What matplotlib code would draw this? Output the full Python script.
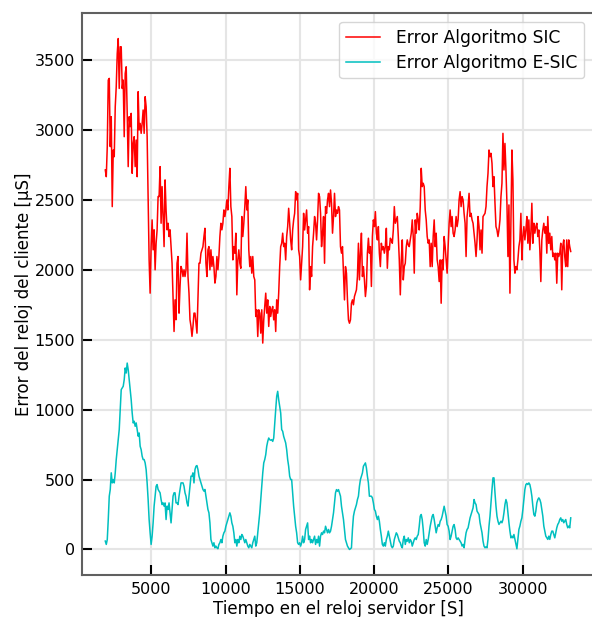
#!/usr/bin/env python3
"""Error del reloj del cliente: algoritmo SIC vs E-SIC."""

import numpy as np
import matplotlib
matplotlib.use("Agg")
import matplotlib.pyplot as plt  # noqa: E402

plt.rcParams["font.family"] = "DejaVu Sans"

RED = "#ff0000"
CYAN = "#00bfbf"
GRID = "#e5e5e5"
SPINE = "#606060"

# tiempo del servidor [S]: muestreo regular de la serie
T_START = 1900
T_END = 33230

# error SIC [uS]
SIC = [
    2714, 2666, 2881, 3357, 3369, 2881, 3095, 2452, 2857, 2809, 3166, 3309, 3547, 3654, 3297, 3595,
    3595, 3297, 3357, 2952, 3404, 3452, 3119, 2738, 3095, 3024, 3119, 2690, 2904, 2952, 2738, 2928,
    2666, 3274, 3000, 3047, 2976, 3047, 3143, 2976, 3238, 3166, 2952, 2524, 2071, 1833, 2166, 2357,
    2143, 2286, 2000, 2190, 2286, 2524, 2524, 2738, 2333, 2595, 2381, 2166, 2643, 2428, 2286, 2333,
    2238, 2286, 2166, 2047, 1809, 1559, 1785, 1643, 2047, 2095, 1690, 1881, 2024, 2000, 1952, 2000,
    1952, 2000, 2262, 1952, 1833, 1643, 1595, 1524, 1595, 1690, 1690, 1619, 1547, 1809, 2047, 2047,
    2119, 2143, 2166, 2238, 2297, 2047, 1952, 2143, 2166, 2000, 2143, 2024, 2095, 2024, 1905, 1952,
    2095, 2000, 2095, 2238, 2333, 2286, 2333, 2428, 2381,
    2428, 2500, 2428, 2595, 2726, 2452, 2381, 2071, 2166, 2119, 2262, 1821, 2071, 2143, 2047, 2011,
    2381, 2238, 2333, 2452, 2595, 2428, 2500, 2143, 2023, 2095, 1976, 2095, 1952, 1928, 1666, 1714,
    1523, 1714, 1690, 1547, 1714, 1476, 1642, 1738, 1833, 1690, 1785, 1595, 1738, 1666, 1714, 1738,
    1642, 1714, 1559, 1785, 1690, 1833, 2023, 2166, 2190, 2262, 2166, 2190, 2071, 2238, 2309, 2440,
    2333, 2214, 2143, 2285, 2357, 2404, 2559, 2500, 2547, 2143, 2095, 1928, 2047, 2166, 2404, 2285,
    2357, 2428, 2262, 2309, 1857, 2023, 1952, 2166, 2262, 2381, 2333, 2214, 2357, 2547, 2523, 2404,
    2166, 2262, 2381, 2047, 2452, 2404, 2500, 2547, 2452, 2571, 2476, 2262, 2381, 2547, 2381, 2428,
    2404, 2452, 2428, 2166, 2119, 2166, 1976, 1785, 2023, 1976, 1785, 1642, 1618, 1642,
    1761, 1785, 1750, 1809, 1833, 1857, 1952, 2190, 1928, 2119, 2262, 1952, 2023, 1928, 1809, 1881,
    2119, 2226, 2119, 2166, 1881, 2238, 2357, 2309, 2416, 2262, 2214, 2309, 2119, 2023, 2190, 2143,
    2166, 2119, 2166, 2297, 2011, 2166, 2143, 2226, 2214, 2190, 2285, 2452, 2333, 2357, 2381, 2238,
    2071, 1821, 2071, 2214, 1928, 2023, 2047, 2166, 2214, 2178, 2166, 2214, 2262, 2357, 2238, 1976,
    2357, 2262, 2404, 2357, 2285, 2452, 2726, 2595, 2619, 2595, 2428, 2357, 2238, 2190, 2214, 2023,
    2190, 2023, 2238, 2357, 2166, 2262, 2071, 2023, 1916, 2071, 1761, 2071, 2000, 2238, 2166, 2071,
    1976, 2166, 2333, 2428, 2309, 2381, 2262, 2238, 2285, 2381, 2309, 2357, 2500, 2559, 2452, 2523,
    2500, 2404, 2333, 2095, 2381, 2452, 2547, 2381, 2404, 2357, 2333, 2262, 2190, 2095,
    2214, 2381, 2309, 2143, 2285, 2119, 2381, 2392, 2404, 2452, 2595, 2690, 2857, 2809, 2833, 2762,
    2595, 2666, 2476, 2309, 2285, 2238, 2285, 2357, 2523, 2619, 2976, 2714, 2904, 2714, 2476, 2095,
    2464, 1833, 2357, 2857, 2642, 2071, 1976, 2023, 2000, 2071, 2166, 2214, 2404, 2071, 2238, 2309,
    2214, 2285, 2381, 2190, 2357, 2143, 2262, 2476, 2190, 2333, 2262, 2309, 2333, 2238, 2285, 2143,
    1916, 2214, 2285, 2333, 2262, 2309, 2119, 2381, 2190, 2262, 2143, 2238, 2095, 2119, 2071, 2119,
    1904, 2119, 2095, 2119, 2190, 1857, 2166, 2214, 2095, 2023, 2214, 2023, 2214, 2166, 2131,
]

# error E-SIC [uS]
ESIC = [
    60, 36, 71, 214, 381, 429, 548, 476, 500, 476, 548, 643, 714, 786, 857, 1000,
    1143, 1155, 1167, 1214, 1298, 1262, 1333, 1286, 1214, 1143, 1071, 976, 905, 917, 881, 905,
    857, 810, 833, 738, 714, 667, 643, 643, 619, 571, 476, 357, 214, 119, 36, 95,
    190, 310, 381, 452, 464, 429, 417, 405, 357, 321, 333, 310, 333, 214, 310, 286,
    333, 262, 190, 286, 381, 405, 405, 333, 333, 321, 381, 429, 476, 476, 476, 452,
    405, 381, 333, 310, 381, 452, 524, 524, 548, 476, 571, 595, 600, 571, 524, 500,
    476, 452, 429, 417, 429, 381, 333, 286, 262, 190, 71, 48, 24, 48, 12, 24,
    12, 5, 36, 48, 71, 48, 95, 119, 131,
    166, 190, 214, 238, 262, 238, 190, 166, 119, 48, 71, 24, 71, 48, 95, 71,
    107, 95, 71, 48, 71, 48, 24, 12, 36, 24, 12, 48, 71, 95, 24, 48,
    119, 190, 262, 357, 452, 547, 619, 643, 678, 738, 773, 797, 785, 781, 785, 773,
    797, 904, 1000, 1095, 1131, 1071, 1024, 976, 857, 845, 809, 785, 762, 714, 643, 595,
    524, 500, 500, 405, 309, 238, 166, 119, 48, 36, 48, 24, 48, 95, 48, 71,
    143, 166, 190, 71, 95, 48, 71, 48, 71, 95, 36, 71, 48, 95, 24, 95,
    119, 107, 131, 119, 166, 143, 119, 143, 119, 131, 166, 214, 262, 333, 405, 428,
    416, 428, 405, 381, 309, 262, 214, 143, 71, 48, 24, 12, 0, 5,
    12, 143, 238, 274, 297, 321, 357, 381, 452, 500, 524, 547, 595, 607, 619, 583,
    524, 476, 381, 381, 381, 369, 333, 286, 274, 238, 214, 238, 202, 143, 95, 36,
    24, 48, 24, 71, 95, 131, 95, 59, 24, 12, 24, 71, 95, 119, 107, 83,
    59, 48, 24, 12, 71, 95, 36, 71, 59, 83, 48, 71, 59, 24, 48, 71,
    83, 71, 95, 107, 166, 238, 250, 214, 143, 48, 24, 71, 36, 71, 119, 166,
    202, 238, 250, 214, 166, 119, 154, 178, 166, 202, 214, 238, 274, 309, 274, 238,
    178, 166, 131, 71, 95, 131, 166, 178, 143, 83, 71, 83, 71, 59, 48, 24,
    36, 12, 71, 119, 143, 154, 190, 226, 250, 274, 297, 357, 333, 321,
    274, 262, 250, 191, 155, 119, 60, 24, 12, 19, 12, 72, 167, 238, 333, 429,
    512, 512, 405, 310, 238, 202, 179, 191, 202, 191, 214, 262, 321, 357, 333, 262,
    191, 131, 83, 95, 83, 107, 72, 36, 5, 72, 143, 167, 202, 226, 286, 357,
    429, 464, 472, 464, 476, 464, 429, 381, 310, 250, 238, 274, 333, 357, 369, 357,
    333, 286, 238, 167, 131, 95, 83, 72, 95, 72, 107, 131, 131, 107, 83, 119,
    155, 179, 191, 214, 226, 202, 214, 191, 202, 214, 179, 155, 167, 155, 226,
]


def main():
    t_sic = np.linspace(T_START, T_END, len(SIC))
    t_esic = np.linspace(T_START, T_END, len(ESIC))

    fig = plt.figure(figsize=(5.92, 6.17), dpi=100)
    ax = fig.add_axes([82 / 592, 42 / 617, 512 / 592, 562 / 617])
    ax.set_facecolor("white")

    ax.plot(t_sic, SIC, color=RED, lw=1.1, label="Error Algoritmo SIC", zorder=3)
    ax.plot(t_esic, ESIC, color=CYAN, lw=1.1, label="Error Algoritmo E-SIC", zorder=3)

    ax.margins(x=0.05, y=0.05)
    ax.set_xticks([5000, 10000, 15000, 20000, 25000, 30000])
    ax.set_yticks([0, 500, 1000, 1500, 2000, 2500, 3000, 3500])
    ax.grid(True, color=GRID, lw=1.5, zorder=0)
    ax.set_axisbelow(True)
    for s in ax.spines.values():
        s.set_color(SPINE)
        s.set_linewidth(1.5)
    ax.tick_params(direction="in", length=7, width=1.5, color="black",
                   labelsize=11.5, pad=5)

    ax.set_xlabel("Tiempo en el reloj servidor [S]", fontsize=12, labelpad=2)
    ax.set_ylabel("Error del reloj del cliente [µS]", fontsize=12, labelpad=1)

    leg = ax.legend(loc="upper right", bbox_to_anchor=(0.9805, 0.984), borderaxespad=0,
                    fontsize=12.3, frameon=True, fancybox=True, handlelength=2.0,
                    handletextpad=0.9, labelspacing=0.4)
    leg.get_frame().set_edgecolor("#cccccc")
    leg.get_frame().set_linewidth(1.0)

    fig.savefig("out.png", dpi=100, facecolor="white")


if __name__ == "__main__":
    main()
